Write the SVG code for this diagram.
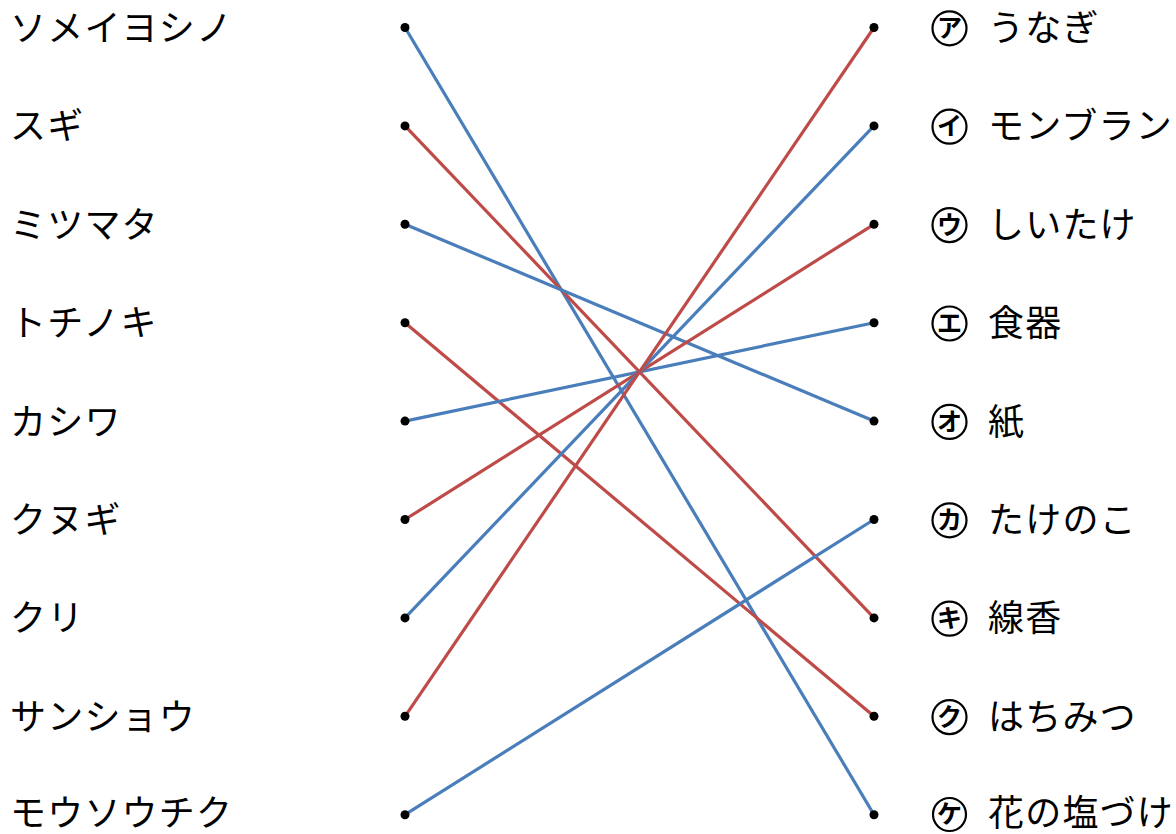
<svg xmlns="http://www.w3.org/2000/svg" width="1176" height="834" viewBox="0 0 1176 834">
<style>
text{font-family:"Noto Sans CJK JP","Noto Sans",sans-serif;font-size:36px;fill:#000;letter-spacing:1.2px}
text.k{font-size:25px;font-weight:bold;text-anchor:middle;letter-spacing:0}
.c{fill:none;stroke:#000;stroke-width:2.2}
.b{stroke:#4a7ebb;stroke-width:3.2;fill:none}
.r{stroke:#be4b48;stroke-width:3.2;fill:none}
.d{fill:#000}
</style>
<rect width="1176" height="834" fill="#fff"/>
<g id="connectors">
<line class="b" x1="405" y1="27.5" x2="874" y2="814.7"/>
<line class="r" x1="405" y1="125.9" x2="874" y2="617.9"/>
<line class="b" x1="405" y1="224.3" x2="874" y2="421.1"/>
<line class="r" x1="405" y1="322.7" x2="874" y2="716.3"/>
<line class="b" x1="405" y1="421.1" x2="874" y2="322.7"/>
<line class="r" x1="405" y1="519.5" x2="874" y2="224.3"/>
<line class="b" x1="405" y1="617.9" x2="874" y2="125.9"/>
<line class="r" x1="405" y1="716.3" x2="874" y2="27.5"/>
<line class="b" x1="405" y1="814.7" x2="874" y2="519.5"/>
</g>
<g id="left-nodes">
<g id="l1"><circle class="d" cx="405" cy="27.5" r="4.5"/><text x="10" y="41">ソメイヨシノ</text></g>
<g id="l2"><circle class="d" cx="405" cy="125.9" r="4.5"/><text x="10" y="139.4">スギ</text></g>
<g id="l3"><circle class="d" cx="405" cy="224.3" r="4.5"/><text x="10" y="237.8">ミツマタ</text></g>
<g id="l4"><circle class="d" cx="405" cy="322.7" r="4.5"/><text x="10" y="336.2">トチノキ</text></g>
<g id="l5"><circle class="d" cx="405" cy="421.1" r="4.5"/><text x="10" y="434.6">カシワ</text></g>
<g id="l6"><circle class="d" cx="405" cy="519.5" r="4.5"/><text x="10" y="533">クヌギ</text></g>
<g id="l7"><circle class="d" cx="405" cy="617.9" r="4.5"/><text x="10" y="631.4">クリ</text></g>
<g id="l8"><circle class="d" cx="405" cy="716.3" r="4.5"/><text x="10" y="729.8">サンショウ</text></g>
<g id="l9"><circle class="d" cx="405" cy="814.7" r="4.5"/><text x="10" y="826">モウソウチク</text></g>
</g>
<g id="right-nodes">
<g id="r1"><circle class="d" cx="874" cy="27.5" r="4.5"/><circle class="c" cx="949.5" cy="28.3" r="17"/><text class="k" x="949.5" y="37">ア</text><text x="988" y="41">うなぎ</text></g>
<g id="r2"><circle class="d" cx="874" cy="125.9" r="4.5"/><circle class="c" cx="949.5" cy="126.7" r="17"/><text class="k" x="949.5" y="135.4">イ</text><text x="988" y="139.4">モンブラン</text></g>
<g id="r3"><circle class="d" cx="874" cy="224.3" r="4.5"/><circle class="c" cx="949.5" cy="225.1" r="17"/><text class="k" x="949.5" y="233.8">ウ</text><text x="988" y="237.8">しいたけ</text></g>
<g id="r4"><circle class="d" cx="874" cy="322.7" r="4.5"/><circle class="c" cx="949.5" cy="323.5" r="17"/><text class="k" x="949.5" y="332.2">エ</text><text x="988" y="336.2">食器</text></g>
<g id="r5"><circle class="d" cx="874" cy="421.1" r="4.5"/><circle class="c" cx="949.5" cy="421.9" r="17"/><text class="k" x="949.5" y="430.6">オ</text><text x="988" y="434.6">紙</text></g>
<g id="r6"><circle class="d" cx="874" cy="519.5" r="4.5"/><circle class="c" cx="949.5" cy="520.3" r="17"/><text class="k" x="949.5" y="529">カ</text><text x="988" y="533">たけのこ</text></g>
<g id="r7"><circle class="d" cx="874" cy="617.9" r="4.5"/><circle class="c" cx="949.5" cy="618.7" r="17"/><text class="k" x="949.5" y="627.4">キ</text><text x="988" y="631.4">線香</text></g>
<g id="r8"><circle class="d" cx="874" cy="716.3" r="4.5"/><circle class="c" cx="949.5" cy="717.1" r="17"/><text class="k" x="949.5" y="725.8">ク</text><text x="988" y="729.8">はちみつ</text></g>
<g id="r9"><circle class="d" cx="874" cy="814.7" r="4.5"/><circle class="c" cx="949.5" cy="814.5" r="16.5"/><text class="k" x="949.5" y="823.2">ケ</text><text x="988" y="826">花の塩づけ</text></g>
</g>
</svg>
